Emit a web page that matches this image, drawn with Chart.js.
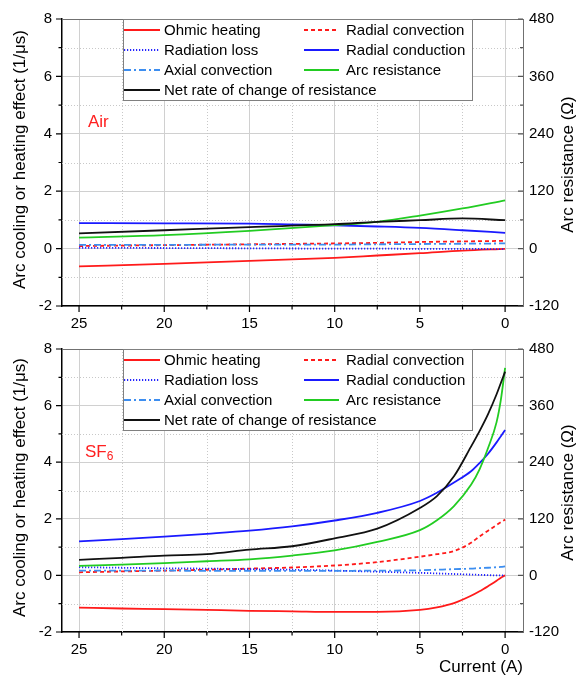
<!DOCTYPE html>
<html><head><meta charset="utf-8">
<script src="https://cdn.jsdelivr.net/npm/chart.js@4.4.1/dist/chart.umd.min.js"></script>
<style>
html,body{margin:0;padding:0;background:#fff;}
#wrap{position:relative;width:581px;height:675px;overflow:hidden;background:#fff;}
.panel{position:absolute;left:0;width:581px;}
canvas{display:block;}
</style></head><body>
<div id="wrap">
<div class="panel" style="top:0;height:330px"><canvas id="c1" width="581" height="330"></canvas></div>
<div class="panel" style="top:330px;height:345px"><canvas id="c2" width="581" height="345"></canvas></div>
</div>
<script>
// ---------- data ----------
const X_TICKS = [25, 20, 15, 10, 5, 0];
const X_MINOR = [22.5, 17.5, 12.5, 7.5, 2.5];
const Y_TICKS = [-2, 0, 2, 4, 6, 8];
const Y_MINOR = [-1, 1, 3, 5, 7];
const Y2_TICKS = [-120, 0, 120, 240, 360, 480];
const LEGEND_LABELS = ["Ohmic heating", "Radial convection", "Radiation loss", "Radial conduction",
                       "Axial convection", "Arc resistance", "Net rate of change of resistance"];

// Air panel (current in A, effects in 1/µs, resistance in Ω)
const current_air  = [25, 20, 15, 10, 7.5, 5, 2.5, 0];
const ohmic_air    = [-0.62, -0.53, -0.43, -0.32, -0.24, -0.16, -0.07, -0.01];
const radConv_air  = [0.09, 0.12, 0.15, 0.18, 0.20, 0.23, 0.25, 0.27];
const radLoss_air  = [0.03, 0.02, 0.01, 0.00, 0.00, -0.01, -0.01, -0.02];
const radCond_air  = [0.89, 0.88, 0.87, 0.81, 0.77, 0.72, 0.64, 0.55];
const axConv_air   = [0.13, 0.13, 0.14, 0.14, 0.15, 0.16, 0.17, 0.18];
const arcRes_air   = [23, 28, 37, 49, 56, 69, 84, 101];
const net_air      = [0.53, 0.64, 0.75, 0.85, 0.93, 0.99, 1.05, 0.99];

// SF6 panel
const current_sf6  = [25, 22.5, 20, 17.5, 15, 12.5, 10, 7.5, 5, 4, 3, 2, 1.5, 1, 0.5, 0.25, 0];
const ohmic_sf6    = [-1.14, -1.17, -1.19, -1.22, -1.25, -1.27, -1.29, -1.29, -1.22, -1.13, -0.98, -0.72, -0.56, -0.38, -0.19, -0.08, 0];
const radConv_sf6  = [0.11, 0.14, 0.17, 0.20, 0.24, 0.28, 0.35, 0.47, 0.66, 0.75, 0.86, 1.15, 1.38, 1.58, 1.78, 1.88, 1.97];
const radLoss_sf6  = [0.29, 0.27, 0.25, 0.24, 0.22, 0.20, 0.17, 0.13, 0.09, 0.07, 0.05, 0.03, 0.02, 0.01, 0.0, 0.0, 0.0];
const radCond_sf6  = [1.20, 1.28, 1.37, 1.47, 1.58, 1.73, 1.94, 2.21, 2.63, 2.92, 3.28, 3.68, 3.97, 4.30, 4.70, 4.92, 5.14];
const axConv_sf6   = [0.17, 0.17, 0.17, 0.16, 0.16, 0.16, 0.16, 0.17, 0.18, 0.20, 0.22, 0.24, 0.26, 0.27, 0.29, 0.30, 0.32];
const arcRes_sf6   = [20, 23, 26, 30, 34, 42, 53, 71, 96, 117, 147, 192, 225, 270, 325, 372, 440];
const net_sf6      = [0.55, 0.62, 0.70, 0.75, 0.91, 1.03, 1.31, 1.65, 2.38, 2.80, 3.50, 4.55, 5.10, 5.70, 6.40, 6.80, 7.20];

// ---------- styles ----------
const FONT = "'Liberation Sans', Arial, sans-serif";
const STYLES = [
  {color:'#ff1a1a', dash:[]},            // ohmic
  {color:'#ff1a1a', dash:[4,3]},         // radial convection
  {color:'#2222ff', dash:[1.2,1.8]},     // radiation loss
  {color:'#1a1aff', dash:[]},            // radial conduction
  {color:'#3d8ef0', dash:[7,3,2,3]},     // axial convection
  {color:'#22cc22', dash:[]},            // arc resistance
  {color:'#111111', dash:[]}             // net
];

function pts(xs, ys){ return xs.map((x,i)=>({x:x, y:ys[i]})); }

function makePanel(canvas, xs, series, cfg){
  const datasets = series.map((ys, i) => ({
    label: LEGEND_LABELS[i],
    data: pts(xs, ys),
    borderColor: STYLES[i].color,
    borderDash: STYLES[i].dash,
    borderWidth: 1.8,
    pointRadius: 0,
    fill: false,
    cubicInterpolationMode: 'monotone',
    yAxisID: i === 5 ? 'y1' : 'y',
    order: 7 - i
  }));

  const deco = {
    id: 'deco',
    beforeDatasetsDraw(chart){
      const {ctx, chartArea:a, scales} = chart;
      const x = scales.x, y = scales.y;
      ctx.save();
      ctx.strokeStyle = '#c8c8c8'; ctx.lineWidth = 1; ctx.setLineDash([1,2]);
      ctx.beginPath();
      X_MINOR.forEach(v => { const p = Math.round(x.getPixelForValue(v)) + 0.5; ctx.moveTo(p, a.top); ctx.lineTo(p, a.bottom); });
      Y_MINOR.forEach(v => { const p = Math.round(y.getPixelForValue(v)) + 0.5; ctx.moveTo(a.left, p); ctx.lineTo(a.right, p); });
      ctx.stroke();
      ctx.restore();
    },
    afterDatasetsDraw(chart){
      const {ctx, chartArea:a, scales} = chart;
      const x = scales.x, y = scales.y, y1 = scales.y1;
      ctx.save();
      // frame top/right
      ctx.setLineDash([]);
      ctx.strokeStyle = '#707070'; ctx.lineWidth = 1;
      ctx.beginPath();
      ctx.moveTo(a.left, a.top + 0.5); ctx.lineTo(a.right + 0.5, a.top + 0.5); ctx.lineTo(a.right + 0.5, a.bottom);
      ctx.stroke();
      // tick marks
      ctx.strokeStyle = '#000'; ctx.lineWidth = 1.2;
      ctx.beginPath();
      X_TICKS.forEach(v => { const p = x.getPixelForValue(v); ctx.moveTo(p, a.bottom); ctx.lineTo(p, a.bottom + 6); });
      X_MINOR.forEach(v => { const p = x.getPixelForValue(v); ctx.moveTo(p, a.bottom); ctx.lineTo(p, a.bottom + 3.5); });
      Y_TICKS.forEach(v => { const p = y.getPixelForValue(v); ctx.moveTo(a.left, p); ctx.lineTo(a.left - 6, p); });
      Y_MINOR.forEach(v => { const p = y.getPixelForValue(v); ctx.moveTo(a.left, p); ctx.lineTo(a.left - 3.5, p); });
      ctx.stroke();
      ctx.strokeStyle = '#555';
      ctx.beginPath();
      Y2_TICKS.forEach(v => { const p = y1.getPixelForValue(v); ctx.moveTo(a.right, p); ctx.lineTo(a.right - 5, p); });
      Y_MINOR.forEach(v => { const p = y.getPixelForValue(v); ctx.moveTo(a.right, p); ctx.lineTo(a.right - 3, p); });
      ctx.stroke();

      // legend box
      const bl = a.left + 61, br = a.left + 410, bt = a.top, bb = a.top + 81;
      ctx.fillStyle = '#fff';
      ctx.fillRect(bl, bt, br - bl, bb - bt);
      ctx.strokeStyle = '#808080'; ctx.lineWidth = 1;
      ctx.strokeRect(bl + 0.5, bt + 0.5, br - bl, bb - bt);
      ctx.font = '15px ' + FONT;
      ctx.textBaseline = 'middle'; ctx.textAlign = 'left';
      chart.data.datasets.forEach((ds, i) => {
        const row = Math.floor(i / 2), col = i % 2;
        const ry = a.top + 11 + row * 20;
        const lx0 = col === 0 ? a.left + 62 : a.left + 242;
        const lx1 = col === 0 ? a.left + 98 : a.left + 277;
        const tx  = col === 0 ? a.left + 102 : a.left + 284;
        ctx.strokeStyle = ds.borderColor; ctx.lineWidth = 1.8;
        ctx.setLineDash(ds.borderDash || []);
        ctx.beginPath(); ctx.moveTo(lx0, ry); ctx.lineTo(lx1, ry); ctx.stroke();
        ctx.setLineDash([]);
        ctx.fillStyle = '#000';
        ctx.fillText(ds.label, tx, ry + 1);
      });

      // panel label
      ctx.fillStyle = '#ff2020';
      ctx.font = '17px ' + FONT;
      ctx.textBaseline = 'middle';
      const ly = a.top + 103;
      if (cfg.gas === 'Air') {
        ctx.fillText('Air', 88, ly);
      } else {
        ctx.fillText('SF', 85, ly);
        const w = ctx.measureText('SF').width;
        ctx.font = '12px ' + FONT;
        ctx.fillText('6', 85 + w, ly + 5);
      }

      // axis titles
      ctx.fillStyle = '#000';
      ctx.font = '17px ' + FONT;
      ctx.textAlign = 'center';
      const cy = (a.top + a.bottom) / 2;
      ctx.save(); ctx.translate(20, cy - 3); ctx.rotate(-Math.PI / 2);
      ctx.fillText('Arc cooling or heating effect (1/\u03bcs)', 0, 0); ctx.restore();
      ctx.save(); ctx.translate(568, cy + 2); ctx.rotate(-Math.PI / 2);
      ctx.fillText('Arc resistance (\u03a9)', 0, 0); ctx.restore();
      if (cfg.xTitle) {
        ctx.textAlign = 'right';
        ctx.fillText('Current (A)', a.right, a.bottom + 35);
      }
      ctx.restore();
    }
  };

  return new Chart(canvas, {
    type: 'line',
    data: { datasets },
    options: {
      responsive: false,
      animation: false,
      events: [],
      layout: { padding: { top: cfg.top, left: 0, right: 0, bottom: 0 } },
      plugins: { legend: { display: false }, tooltip: { enabled: false } },
      scales: {
        x: {
          type: 'linear', min: -1.05, max: 26, reverse: true,
          afterBuildTicks: s => { s.ticks = X_TICKS.map(v => ({ value: v })); },
          afterFit: s => { s.height = cfg.xh; },
          ticks: { font: { size: 15, family: FONT }, color: '#000', padding: 9, maxRotation: 0, autoSkip: false, callback: v => String(v) },
          grid: { color: '#d0d0d0', lineWidth: 1, drawTicks: false },
          border: { display: true, color: '#000', width: 1.5 }
        },
        y: {
          position: 'left', min: -2, max: 8,
          afterBuildTicks: s => { s.ticks = Y_TICKS.map(v => ({ value: v })); },
          afterFit: s => { s.width = 62; },
          ticks: { font: { size: 15, family: FONT }, color: '#000', padding: 10, callback: v => String(v) },
          grid: { color: '#d0d0d0', lineWidth: 1, drawTicks: false },
          border: { display: true, color: '#000', width: 1.5 }
        },
        y1: {
          position: 'right', min: -120, max: 480,
          afterBuildTicks: s => { s.ticks = Y2_TICKS.map(v => ({ value: v })); },
          afterFit: s => { s.width = 58; },
          ticks: { font: { size: 15, family: FONT }, color: '#000', padding: 6, callback: v => String(v) },
          grid: { drawOnChartArea: false, drawTicks: false },
          border: { display: true, color: '#707070', width: 1 }
        }
      }
    },
    plugins: [deco]
  });
}

makePanel(document.getElementById('c1'), current_air,
  [ohmic_air, radConv_air, radLoss_air, radCond_air, axConv_air, arcRes_air, net_air],
  { top: 15, xh: 24, gas: 'Air', xTitle: false });

makePanel(document.getElementById('c2'), current_sf6,
  [ohmic_sf6, radConv_sf6, radLoss_sf6, radCond_sf6, axConv_sf6, arcRes_sf6, net_sf6],
  { top: 12, xh: 43, gas: 'SF6', xTitle: true });
</script>
</body></html>
